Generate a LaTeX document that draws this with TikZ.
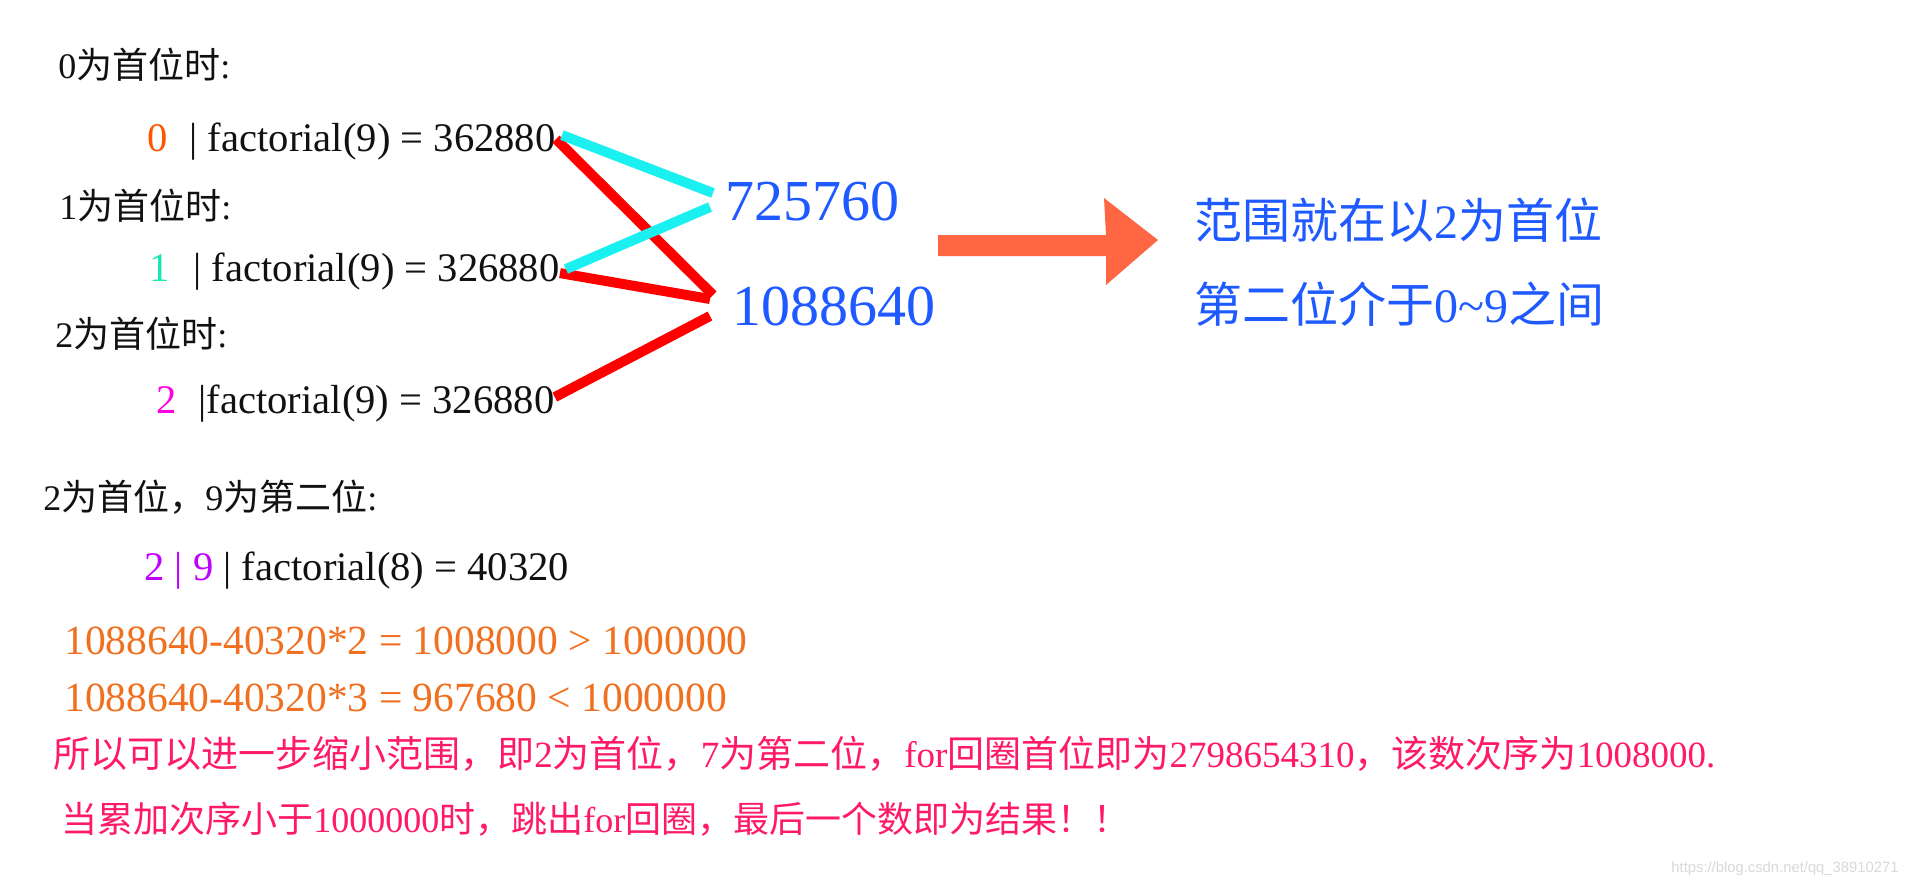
\documentclass[tikz,border=0pt]{standalone}
\usepackage{fontspec}
\setmainfont{Liberation Serif}
\newfontfamily\cjk{Noto Sans CJK SC}
\newfontfamily\wmfont{Liberation Sans}
\usepackage{xcolor}
\usetikzlibrary{calc}
\definecolor{zeroOrange}{HTML}{FF5500}
\definecolor{oneTeal}{HTML}{1AE6B4}
\definecolor{twoMagenta}{HTML}{FF00E0}
\definecolor{nPurple}{HTML}{C000FF}
\definecolor{resBlue}{HTML}{1E5AFF}
\definecolor{calcOrange}{HTML}{F07020}
\definecolor{notePink}{HTML}{FF1A66}
\definecolor{lnCyan}{HTML}{1AF0F0}
\definecolor{lnRed}{HTML}{FF0000}
\definecolor{arrOrange}{HTML}{FF6644}
\definecolor{txtInk}{HTML}{111111}
\newcommand{\zh}[1]{{\cjk #1}}
\tikzset{
  txt/.style={anchor=base west,inner sep=0pt,text=txtInk},
  headtxt/.style={txt,font=\fontsize{18}{22}\selectfont},
  facttxt/.style={txt,font=\fontsize{20.3}{24}\selectfont},
  restxt/.style={txt,font=\fontsize{29}{34}\selectfont,text=resBlue},
  rangetxt/.style={txt,font=\fontsize{24}{28}\selectfont,text=resBlue},
  calctxt/.style={txt,font=\fontsize{20.75}{24}\selectfont,text=calcOrange},
  notetxt/.style={txt,font=\fontsize{18.5}{22}\selectfont,text=notePink},
  wmtxt/.style={txt,font=\wmfont\fontsize{7.4}{9}\selectfont,text=gray!30},
  cyanln/.style={draw=lnCyan,line width=5pt},
  redln/.style={draw=lnRed,line width=5pt},
}
\begin{document}
\begin{tikzpicture}[x=0.5pt,y=-0.5pt]
  \useasboundingbox[fill=white] (0,0) rectangle (1920,885);

  % first digit cases
  \node[headtxt] (h0) at (58,78) {0\zh{为首位时}:};
  \node[facttxt] (f0) at (147,151)
    {\textcolor{zeroOrange}{0}\hspace{11pt}| factorial(9) = 362880};
  \node[headtxt] (h1) at (59,219) {1\zh{为首位时}:};
  \node[facttxt] (f1) at (149,281)
    {\textcolor{oneTeal}{1}\hspace{12pt}| factorial(9) = 326880};
  \node[headtxt] (h2) at (55,347) {2\zh{为首位时}:};
  \node[facttxt] (f2) at (156,413)
    {\textcolor{twoMagenta}{2}\hspace{11pt}|factorial(9) = 326880};

  % sums
  \node[restxt] (v1) at (725,220) {725760};
  \node[restxt] (v2) at (732,325) {1088640};

  \draw[redln] ([yshift=1pt]f0.east) -- ([xshift=-9.5pt,yshift=5.5pt]v2.west);
  \draw[redln] ([yshift=-1pt]f1.east) -- ([xshift=-11pt,yshift=3.5pt]v2.west);
  \draw[redln] ([yshift=3pt]f2.east) -- ([xshift=-11pt,yshift=-5pt]v2.west);
  \draw[cyanln] ([xshift=3pt,yshift=3pt]f0.east) -- ([xshift=-6pt,yshift=4pt]v1.west);
  \draw[cyanln] ([xshift=3pt,yshift=1pt]f1.east) -- ([xshift=-7.5pt,yshift=-3pt]v1.west);

  % block arrow
  \fill[arrOrange] (938,235) -- (1106,235) -- (1104,198) -- (1158,240)
    -- (1106,285) -- (1106,256) -- (938,256) -- cycle;

  \node[rangetxt] (r1) at (1194,238) {\zh{范围就在以}2\zh{为首位}};
  \node[rangetxt] (r2) at (1194,322) {\zh{第二位介于}0\textasciitilde 9\zh{之间}};

  % second digit
  \node[headtxt] (h3) at (43,510) {2\zh{为首位，}9\zh{为第二位}:};
  \node[facttxt] (f3) at (144,580)
    {\textcolor{nPurple}{2 | 9} | factorial(8) = 40320};
  \node[calctxt] (o1) at (64,654) {1088640-40320*2 = 1008000 > 1000000};
  \node[calctxt] (o2) at (64,711) {1088640-40320*3 = 967680 < 1000000};
  \node[notetxt] (p1) at (53,767)
    {\zh{所以可以进一步缩小范围，即}2\zh{为首位，}7\zh{为第二位，}for\zh{回圈首位即为}2798654310\zh{，该数次序为}1008000.};
  \node[notetxt,font=\fontsize{18}{22}\selectfont] (p2) at (61,832)
    {\zh{当累加次序小于}1000000\zh{时，跳出}for\zh{回圈，最后一个数即为结果！！}};

  \node[wmtxt] (wm) at (1671,872) {https://blog.csdn.net/qq\_38910271};
\end{tikzpicture}
\end{document}
